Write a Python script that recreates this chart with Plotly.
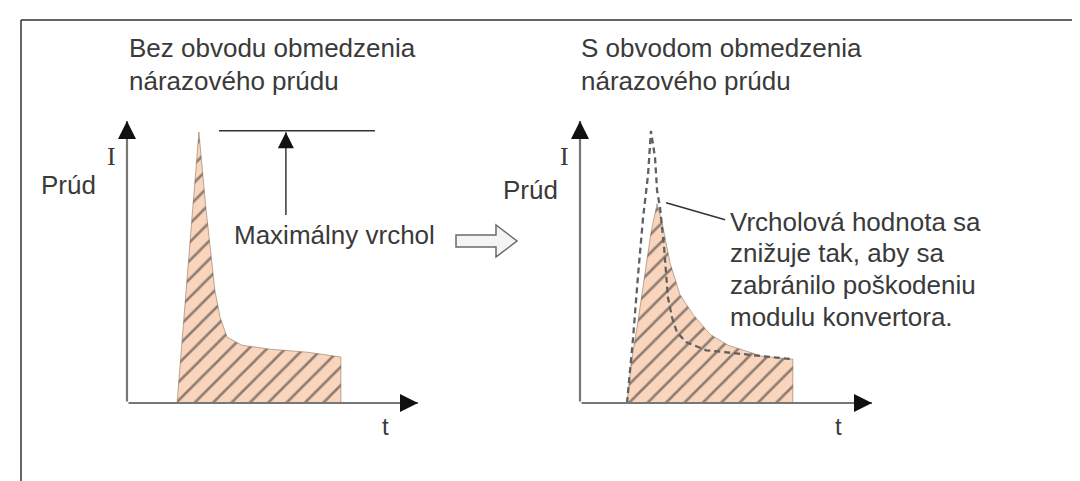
import plotly.graph_objects as go

# ---------------- data (arbitrary units: t = time, I = current) ----------------
# Left panel: without inrush-current limiting
left_t = [1.72, 2.47, 2.71, 3.02, 3.20, 3.44, 3.95, 4.91, 6.22, 7.35, 7.35, 1.72]
left_I = [0.00, 9.61, 6.93, 3.99, 3.04, 2.33, 2.05, 1.91, 1.80, 1.63, 0.00, 0.00]
peak_level = 9.65
peak_line_t = [3.16, 8.52]
peak_arrow_t = 5.46
peak_arrow_from = 6.61

# Right panel: with inrush-current limiting (filled) and original spike (dashed)
right_t = [1.61, 1.75, 1.99, 2.23, 2.43, 2.64, 2.81, 3.08, 3.42, 3.87, 4.45, 5.07, 6.23, 7.29, 7.29, 1.61]
right_I = [0.00, 1.38, 2.93, 4.70, 6.04, 7.07, 6.40, 4.98, 3.85, 3.14, 2.44, 2.05, 1.66, 1.55, 0.00, 0.00]
dashed_t = [1.61, 1.82, 1.99, 2.16, 2.33, 2.43, 2.57, 2.64, 2.74, 2.88, 3.01, 3.15, 3.32, 3.63, 4.32, 5.65, 7.29]
dashed_I = [0.00, 2.33, 4.56, 6.57, 8.09, 9.65, 8.69, 7.53, 6.93, 5.51, 3.75, 3.04, 2.51, 2.16, 1.87, 1.73, 1.55]
leader_t = [2.95, 4.97]
leader_I = [7.10, 6.50]

axis_max = 10

# ---------------- texts ----------------
title_left = ["Bez obvodu obmedzenia", "nárazového prúdu"]
title_right = ["S obvodom obmedzenia", "nárazového prúdu"]
peak_label = "Maximálny vrchol"
note_lines = ["Vrcholová hodnota sa", "znižuje tak, aby sa",
              "zabránilo poškodeniu", "modulu konvertora."]
ylabel_text = "Prúd"
ysym = "I"
xsym = "t"

# ---------------- layout helpers ----------------
W, H = 1080, 481
def px(x):
    return x / W
def py(y):
    return 1 - y / H

TXT = "#3a3a3a"
FONT = "Liberation Sans, Arial, sans-serif"
FILL = "#f9d5bd"
HATCH = "#262626"

fig = go.Figure()

def add_area(t, I, xa, ya):
    fig.add_trace(go.Scatter(
        x=t, y=I, xaxis=xa, yaxis=ya, mode="lines", fill="toself",
        fillcolor=FILL,
        fillpattern=dict(shape="/", size=13, solidity=0.2, fgcolor=HATCH, bgcolor=FILL),
        line=dict(color="rgba(110,80,60,0.45)", width=1), hoverinfo="skip"))

add_area(left_t, left_I, "x", "y")
add_area(right_t, right_I, "x2", "y2")

fig.add_trace(go.Scatter(x=dashed_t, y=dashed_I, xaxis="x2", yaxis="y2", mode="lines",
                         line=dict(color="#606060", width=2.3, dash="6px,4px"), hoverinfo="skip"))
fig.add_trace(go.Scatter(x=leader_t, y=leader_I, xaxis="x2", yaxis="y2", mode="lines",
                         line=dict(color="#333333", width=1.5), hoverinfo="skip"))
fig.add_trace(go.Scatter(x=peak_line_t, y=[peak_level, peak_level], xaxis="x", yaxis="y",
                         mode="lines", line=dict(color="#333333", width=1.5), hoverinfo="skip"))

annotations = []

def arrow(xr, yr, x0, y0, x1, y1, shaft="#777777", width=2.2, hs=1.8):
    # shaft
    annotations.append(dict(xref=xr, yref=yr, axref=xr, ayref=yr, x=x1, y=y1, ax=x0, ay=y0,
                            text="", showarrow=True, arrowhead=0, arrowwidth=width,
                            arrowcolor=shaft, standoff=0))
    # head
    dx = 0 if x1 == x0 else -14
    dy = 0 if y1 == y0 else 14
    annotations.append(dict(xref=xr, yref=yr, x=x1, y=y1, ax=dx, ay=dy,
                            text="", showarrow=True, arrowhead=2, arrowwidth=2,
                            arrowsize=hs, arrowcolor="#111111", standoff=0))

for xr, yr in (("x", "y"), ("x2", "y2")):
    arrow(xr, yr, 0, 0, 0, axis_max)
    arrow(xr, yr, 0, 0, axis_max, 0)

arrow("x", "y", peak_arrow_t, peak_arrow_from, peak_arrow_t, peak_level - 0.05,
      shaft="#444444", width=1.6, hs=1.6)

def text(s, x, y, size=26, family=FONT, anchor="left"):
    annotations.append(dict(xref="paper", yref="paper", x=px(x), y=py(y), text=s,
                            showarrow=False, xanchor=anchor, yanchor="middle",
                            font=dict(family=family, size=size, color=TXT)))

text(title_left[0], 119, 40)
text(title_left[1], 119, 73)
text(title_right[0], 571, 40)
text(title_right[1], 571, 73)
text(ylabel_text, 31, 177)
text(ylabel_text, 493, 182)
text(ysym, 103, 149, size=26, family="Liberation Serif, Times New Roman, serif", anchor="center")
text(ysym, 556, 149, size=26, family="Liberation Serif, Times New Roman, serif", anchor="center")
text(xsym, 377, 418, size=24, anchor="center")
text(xsym, 830, 418, size=24, anchor="center")
text(peak_label, 224, 227)
for i, s in enumerate(note_lines):
    text(s, 720, 214 + 31.5 * i)

# hollow arrow between panels
pts = [(448, 227), (488, 227), (488, 217), (509, 233), (488, 249), (488, 239), (448, 239)]
path = "M " + " L ".join(f"{px(a):.5f},{py(b):.5f}" for a, b in pts) + " Z"
shapes = [
    dict(type="path", xref="paper", yref="paper", path=path,
         fillcolor="#f4f4f4", line=dict(color="#6a6a6a", width=1.5)),
    dict(type="line", xref="paper", yref="paper", x0=px(13), y0=py(12), x1=px(1080), y1=py(12),
         line=dict(color="#333333", width=1.5)),
    dict(type="line", xref="paper", yref="paper", x0=px(13), y0=py(12), x1=px(13), y1=py(481),
         line=dict(color="#333333", width=1.5)),
]

ydom = [py(395), py(113)]
fig.update_layout(
    width=W, height=H, margin=dict(l=0, r=0, t=0, b=0),
    paper_bgcolor="white", plot_bgcolor="white", showlegend=False,
    xaxis=dict(domain=[px(119), px(410)], range=[0, axis_max], visible=False, fixedrange=True),
    yaxis=dict(domain=ydom, range=[0, axis_max], visible=False, fixedrange=True, anchor="x"),
    xaxis2=dict(domain=[px(572), px(864)], range=[0, axis_max], visible=False, fixedrange=True, anchor="y2"),
    yaxis2=dict(domain=ydom, range=[0, axis_max], visible=False, fixedrange=True, anchor="x2"),
    annotations=annotations, shapes=shapes,
)

fig.write_html("out.html")
